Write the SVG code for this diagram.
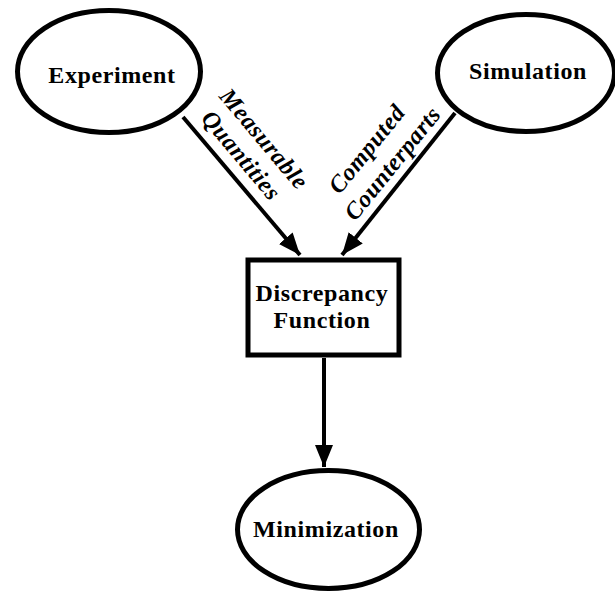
<svg xmlns="http://www.w3.org/2000/svg" width="615" height="592" viewBox="0 0 615 592">
<style>
.node{fill:#fff;stroke:#000;stroke-width:5}
.lbl{font-family:"Liberation Serif","Times New Roman",Times,"DejaVu Serif","Noto Serif",serif;font-weight:bold;font-size:24px;fill:#000;text-anchor:middle;letter-spacing:0.6px}
.elbl{font-family:"Liberation Serif","Times New Roman",Times,"DejaVu Serif","Noto Serif",serif;font-weight:bold;font-style:italic;font-size:24px;fill:#000;text-anchor:middle;letter-spacing:0.6px}
.edge{stroke:#000;stroke-width:4;fill:none}
</style>
<defs>
<marker id="ah" markerUnits="userSpaceOnUse" markerWidth="24" markerHeight="20" refX="22" refY="9" orient="auto">
<path d="M0,0 L22,9 L0,18 z" fill="#000"/>
</marker>
</defs>
<rect width="615" height="592" fill="#fff"/>
<g id="connectors">
<line class="edge" x1="183" y1="117" x2="300" y2="255" marker-end="url(#ah)"/>
<line class="edge" x1="455" y1="113" x2="342" y2="255" marker-end="url(#ah)"/>
<line class="edge" x1="324" y1="358" x2="324" y2="467" marker-end="url(#ah)"/>
<text class="elbl" transform="translate(258,144) rotate(50)"><tspan x="0" y="0">Measurable</tspan><tspan x="-2" y="28">Quantities</tspan></text>
<text class="elbl" transform="translate(373,154) rotate(-51)"><tspan x="0" y="0">Computed</tspan><tspan x="5" y="29">Counterparts</tspan></text>
</g>
<g id="experiment">
<ellipse class="node" cx="109" cy="71.5" rx="91.5" ry="61"/>
<text class="lbl" x="112" y="83">Experiment</text>
</g>
<g id="simulation">
<ellipse class="node" cx="526" cy="73" rx="88.5" ry="58.5"/>
<text class="lbl" x="528" y="79">Simulation</text>
</g>
<g id="discrepancy">
<rect class="node" x="248" y="260" width="151" height="95" stroke-width="6"/>
<text class="lbl" x="322" y="301">Discrepancy</text>
<text class="lbl" x="322" y="328">Function</text>
</g>
<g id="minimization">
<ellipse class="node" cx="328.5" cy="529.5" rx="91" ry="59"/>
<text class="lbl" x="326" y="537">Minimization</text>
</g>
</svg>
